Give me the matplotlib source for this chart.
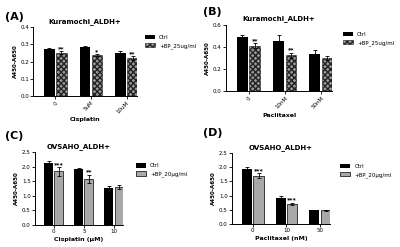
import numpy as np
import matplotlib.pyplot as plt

# panel data: ctrl / +BP means and errors, significance marks
a_groups = ['0', '5uM', '10uM']
a_ctrl = [0.27, 0.285, 0.25]
a_ctrl_err = [0.006, 0.004, 0.012]
a_bp = [0.252, 0.236, 0.22]
a_bp_err = [0.006, 0.006, 0.011]
a_stars = ['**', '*', '**']

b_groups = ['0', '10nM', '50nM']
b_ctrl = [0.485, 0.45, 0.335]
b_ctrl_err = [0.018, 0.058, 0.033]
b_bp = [0.41, 0.325, 0.30]
b_bp_err = [0.022, 0.024, 0.018]
b_stars = ['**', '**', '']

c_groups = ['0', '5', '10']
c_ctrl = [2.12, 1.92, 1.28]
c_ctrl_err = [0.07, 0.04, 0.04]
c_bp = [1.83, 1.57, 1.30]
c_bp_err = [0.15, 0.15, 0.08]
c_stars = ['***', '**', '']

d_groups = ['0', '10', '50']
d_ctrl = [1.95, 0.92, 0.49]
d_ctrl_err = [0.06, 0.06, 0.02]
d_bp = [1.70, 0.70, 0.49]
d_bp_err = [0.08, 0.04, 0.02]
d_stars = ['***', '***', '']

plt.rcParams['font.family'] = ['DejaVu Sans']

fig = plt.figure(figsize=(4, 2.47), dpi=100)
fig.patch.set_facecolor('white')

w = 0.3


def panel(pos, groups, ctrl, ctrl_err, bp, bp_err, stars, ymax, step,
          title, xlabel, bp_label, hatched, rot, letter, lpos, leg):
    ax = fig.add_axes(pos)
    x = np.arange(len(groups))
    ax.bar(x - w / 2 - 0.02, ctrl, w, yerr=ctrl_err, color='black',
           ecolor='black', error_kw=dict(lw=0.6, capsize=1.5, capthick=0.6),
           label='Ctrl')
    if hatched:
        ax.bar(x + w / 2 + 0.02, bp, w, yerr=bp_err, color='#9a9a9a',
               edgecolor='#222222', hatch='xxxxxx', lw=0.4, ecolor='black',
               error_kw=dict(lw=0.6, capsize=1.5, capthick=0.6), label=bp_label)
    else:
        ax.bar(x + w / 2 + 0.02, bp, w, yerr=bp_err, color='#a8a8a8',
               edgecolor='#222222', lw=0.6, ecolor='black',
               error_kw=dict(lw=0.6, capsize=1.5, capthick=0.6), label=bp_label)
    for i, s in enumerate(stars):
        if s:
            ax.text(x[i] + w / 2 + 0.02, bp[i] + bp_err[i] + ymax * 0.005, s,
                    ha='center', va='bottom', fontsize=4.5, fontweight='bold')
    ax.set_ylim(0, ymax)
    ax.set_yticks(np.arange(0, ymax + step / 2, step))
    ax.set_xlim(-0.62, len(groups) - 0.7)
    ax.set_xticks(x)
    if rot:
        ax.set_xticklabels(groups, rotation=45, ha='right', rotation_mode='anchor')
    else:
        ax.set_xticklabels(groups)
    for sp in ['top', 'right']:
        ax.spines[sp].set_visible(False)
    for sp in ['left', 'bottom']:
        ax.spines[sp].set_linewidth(0.7)
    ax.tick_params(labelsize=4, width=0.6, length=2, pad=1)
    ax.set_ylabel('A450-A650', fontsize=4, fontweight='bold', labelpad=2)
    ax.set_xlabel(xlabel, fontsize=4.5, fontweight='bold', labelpad=2)
    ax.set_title(title, fontsize=5, fontweight='bold', pad=3)
    fig.text(lpos[0], lpos[1], letter, fontsize=8, fontweight='bold',
             ha='left', va='center')
    ax.legend(loc='upper left', bbox_to_anchor=leg, frameon=False,
              fontsize=4, handlelength=1.8, handleheight=0.9,
              borderaxespad=0, labelspacing=0.5)
    return ax


panel([0.083, 0.611, 0.26, 0.28], a_groups, a_ctrl, a_ctrl_err, a_bp, a_bp_err,
      a_stars, 0.4, 0.1, 'Kuramochi_ALDH+', 'Cisplatin', '+BP_25ug/ml', True,
      True, '(A)', (0.012, 0.93), (1.05, 0.92))
panel([0.565, 0.63, 0.265, 0.27], b_groups, b_ctrl, b_ctrl_err, b_bp, b_bp_err,
      b_stars, 0.6, 0.2, 'Kuramochi_ALDH+', 'Paclitaxel', '+BP_25ug/ml', True,
      True, '(B)', (0.508, 0.95), (1.08, 0.93))
panel([0.0875, 0.089, 0.22, 0.296], c_groups, c_ctrl, c_ctrl_err, c_bp, c_bp_err,
      c_stars, 2.5, 0.5, 'OVSAHO_ALDH+', 'Cisplatin (\u03bcM)', '+BP_20\u03bcg/ml',
      False, False, '(C)', (0.012, 0.45), (1.12, 0.88))
panel([0.58, 0.093, 0.245, 0.288], d_groups, d_ctrl, d_ctrl_err, d_bp, d_bp_err,
      d_stars, 2.5, 0.5, 'OVSAHO_ALDH+', 'Paclitaxel (nM)', '+BP_20\u03bcg/ml',
      False, False, '(D)', (0.508, 0.46), (1.08, 0.88))

fig.savefig('out.png', dpi=100)
